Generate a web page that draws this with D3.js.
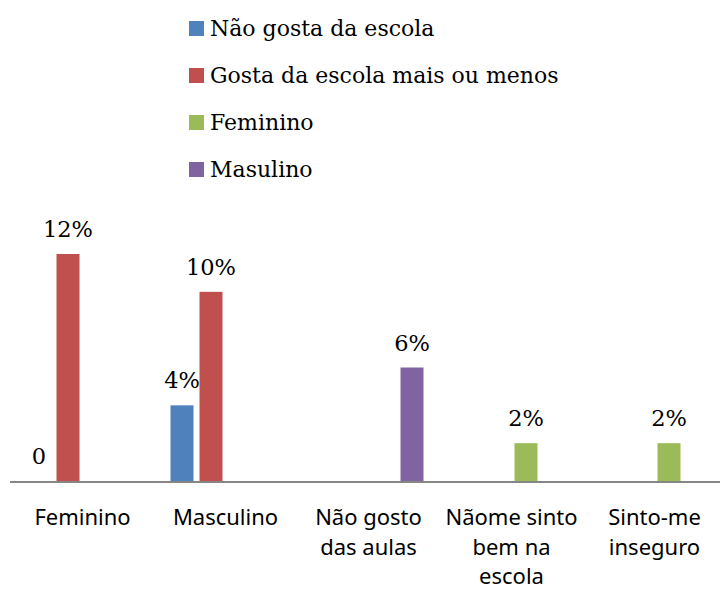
<!DOCTYPE html>
<html lang="pt">
  <head>
    <meta charset="utf-8">
    <title>escola</title>
    <style>
body { margin: 0; background: #fff; }
svg { display: block; }
.legend text, .value { font-family: "DejaVu Serif", serif; fill: #000; }
.cat text { font-family: "Noto Sans", sans-serif; font-size: 22px; fill: #000; }
    </style>
  </head>
  <body>
    <svg></svg>
    <script src="https://cdn.jsdelivr.net/npm/d3@7"></script>
    <script>

    // categories along the bottom
    let categories = ["Feminino", "Masculino", "Não gosto das aulas", "Nãome sinto bem na escola", "Sinto-me inseguro"];
    let catLines = [["Feminino"], ["Masculino"], ["Não gosto", "das aulas"], ["Nãome sinto", "bem na", "escola"], ["Sinto-me", "inseguro"]];

    // series, legend order
    let series = ["Não gosta da escola", "Gosta da escola mais ou menos", "Feminino", "Masulino"];
    let colors = ["#4F81BD", "#C0504D", "#9BBB59", "#8064A2"];

    // values in %, null = no bar
    let naoGosta  = [0, 4, null, null, null];
    let gostaMais = [12, 10, null, null, null];
    let feminino  = [null, null, null, 2, 2];
    let masulino  = [null, null, 6, null, null];

    let values = [naoGosta, gostaMais, feminino, masulino];

    let width = 720, height = 592;

    let svg = d3.select("svg")
        .attr("width", width)
        .attr("height", height);

    let x0 = d3.scaleBand()
        .domain(categories)
        .range([11, 726]);

    let x1 = d3.scaleBand()
        .domain(series)
        .range([16.5, 126.5])
        .paddingInner(0.207);

    let y = d3.scaleLinear()
        .domain([0, 12])
        .range([481, 254]);

    let color = d3.scaleOrdinal().domain(series).range(colors);

    // flatten to one record per existing bar
    let bars = [];
    series.forEach(function(s, si) {
      values[si].forEach(function(v, ci) {
        if (v !== null) bars.push({s: s, c: categories[ci], v: v});
      });
    });

    let g = svg.append("g");

    g.selectAll("rect.bar")
        .data(bars)
      .enter().append("rect")
        .attr("class", "bar")
        .attr("x", function(d) { return x0(d.c) + x1(d.s); })
        .attr("width", x1.bandwidth())
        .attr("y", function(d) { return y(d.v); })
        .attr("height", function(d) { return y(0) - y(d.v); })
        .attr("fill", function(d) { return color(d.s); });

    g.selectAll("text.value")
        .data(bars)
      .enter().append("text")
        .attr("class", "value")
        .attr("x", function(d) { return x0(d.c) + x1(d.s) + x1.bandwidth() / 2; })
        .attr("y", function(d) { return y(d.v) - 17; })
        .attr("text-anchor", "middle")
        .style("font-size", "22.5px")
        .text(function(d) { return d.v === 0 ? "0" : d.v + "%"; });

    // baseline
    svg.append("line")
        .attr("x1", 10).attr("x2", width)
        .attr("y1", y(0) + 1).attr("y2", y(0) + 1)
        .attr("stroke", "#868686")
        .attr("stroke-width", 2);

    // category labels
    let cat = svg.selectAll(".cat")
        .data(categories)
      .enter().append("g")
        .attr("class", "cat")
        .attr("transform", function(d) { return "translate(" + (x0(d) + x0.bandwidth() / 2) + ",525)"; });

    cat.each(function(d, i) {
      d3.select(this).selectAll("text")
          .data(catLines[i])
        .enter().append("text")
          .attr("text-anchor", "middle")
          .attr("y", function(t, j) { return j * 29.5; })
          .text(function(t) { return t; });
    });

    // legend
    let legend = svg.selectAll(".legend")
        .data(series)
      .enter().append("g")
        .attr("class", "legend")
        .attr("transform", function(d, i) { return "translate(189," + (28 + i * 47) + ")"; });

    legend.append("rect")
        .attr("x", 0).attr("y", -7)
        .attr("width", 15).attr("height", 15)
        .attr("fill", function(d) { return color(d); });

    legend.append("text")
        .attr("x", 21)
        .attr("dy", "0.35em")
        .style("font-size", "22px")
        .text(function(d) { return d; });

    </script>
  </body>
</html>
